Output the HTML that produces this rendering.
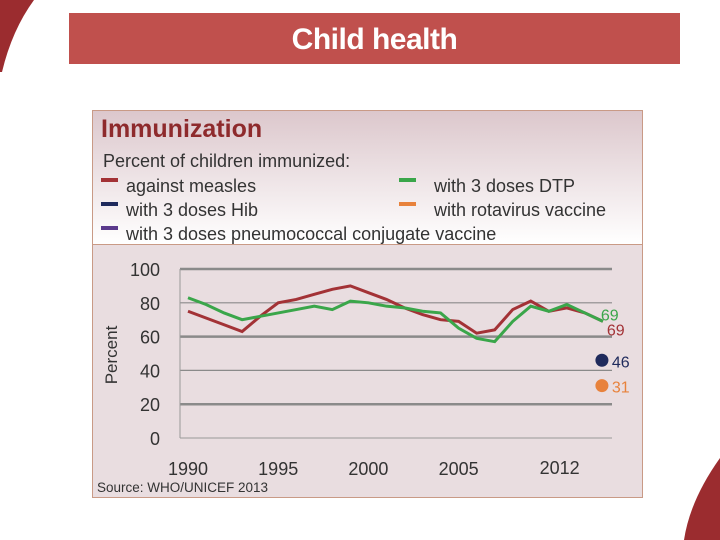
<!DOCTYPE html>
<html><head><meta charset="utf-8"><style>
body{margin:0;width:720px;height:540px;background:#fff;position:relative;overflow:hidden;font-family:"Liberation Sans",sans-serif}
.abs{position:absolute}
.lg{font-size:18px;color:#333}
</style></head><body>
<svg class="abs" style="left:0;top:0" width="720" height="540">
<path d="M0,0 L34,0 Q12,30 2,72 L0,72 Z" fill="#9b2c2f"/>
<path d="M720,458 Q690,500 684,540 L720,540 Z" fill="#9b2c2f"/>
</svg>
<div class="abs" style="left:69px;top:13px;width:611px;height:51px;background:#c0504d;color:#fff;font-size:30px;font-weight:bold;text-align:center;line-height:53px;font-family:'Liberation Sans',sans-serif;letter-spacing:-0.5px">Child health</div>
<div class="abs" style="left:92px;top:110px;width:549px;height:133px;border:1px solid #c99a86;border-bottom:none;background:linear-gradient(#dcc7cc,#ffffff)">
<div class="abs" style="left:8px;top:4px;font-size:25px;font-weight:bold;color:#8e2a2c">Immunization</div>
<div class="abs lg" style="left:10px;top:40px">Percent of children immunized:</div>
<div class="abs lg" style="left:8px;top:65px"><span style="display:inline-block;width:17px;height:4px;background:#a33236;vertical-align:top;margin-top:2px;margin-right:8px"></span>against measles</div>
<div class="abs lg" style="left:8px;top:89px"><span style="display:inline-block;width:17px;height:4px;background:#1f2a5c;vertical-align:top;margin-top:2px;margin-right:8px"></span>with 3 doses Hib</div>
<div class="abs lg" style="left:8px;top:113px"><span style="display:inline-block;width:17px;height:4px;background:#5b3a8c;vertical-align:top;margin-top:2px;margin-right:8px"></span>with 3 doses pneumococcal conjugate vaccine</div>
<div class="abs lg" style="left:306px;top:65px"><span style="display:inline-block;width:17px;height:4px;background:#3aa64a;vertical-align:top;margin-top:2px;margin-right:18px"></span>with 3 doses DTP</div>
<div class="abs lg" style="left:306px;top:89px"><span style="display:inline-block;width:17px;height:4px;background:#e8823c;vertical-align:top;margin-top:2px;margin-right:18px"></span>with rotavirus vaccine</div>
</div>
<div class="abs" style="left:92px;top:244px;width:549px;height:252px;border:1px solid #c99a86;background:#e9dde0"></div>
<svg class="abs" id="chart" style="left:0;top:0" width="720" height="540" font-family="Liberation Sans, sans-serif"></svg>
<script>
const years=[1990,1991,1992,1993,1994,1995,1996,1997,1998,1999,2000,2001,2002,2003,2004,2005,2006,2007,2008,2009,2010,2011,2012,2013];
const measles=[75,71,67,63,72,80,82,85,88,90,86,82,77,73,70,69,62,64,76,81,75,77,74,69];
const dtp=[83,79,74,70,72,74,76,78,76,81,80,78,77,75,74,65,59,57,69,78,75,79,74,69];
const yTicks=[0,20,40,60,80,100];
const xTickLabels=["1990","1995","2000","2005","2012"];
const xTickYears=[1990,1995,2000,2005,2010.6];
const dotLabels=["46","31"];
const dotValues=[46,31];
const svg=document.getElementById('chart');
const NS='http://www.w3.org/2000/svg';
const x=y=>188+(y-1990)*18.04;
const yv=v=>438-v*1.69;
function mk(t,a){const e=document.createElementNS(NS,t);for(const k in a)e.setAttribute(k,a[k]);svg.appendChild(e);return e;}
yTicks.forEach(v=>{
  if(v>0){const g=mk('line',{x1:180,x2:612,y1:yv(v),y2:yv(v),stroke:'#8a8a8a','stroke-width':v%40==0?1.2:2.5});
  }
  const t=mk('text',{x:160,y:yv(v)+7,'text-anchor':'end','font-size':18,fill:'#333'});t.textContent=v;
  
});
const ax=mk('line',{x1:180,x2:180,y1:yv(100),y2:yv(0),stroke:'#999','stroke-width':1});

const bx=mk('line',{x1:180,x2:612,y1:yv(0),y2:yv(0),stroke:'#999','stroke-width':1});

xTickLabels.forEach((l,i)=>{const t=mk('text',{x:x(xTickYears[i]),y:i==4?474:475,'text-anchor':'middle','font-size':18,fill:'#333'});t.textContent=l;
});
const yt=mk('text',{x:0,y:0,transform:'translate(117,355) rotate(-90)','text-anchor':'middle','font-size':17,fill:'#333'});yt.textContent='Percent';

const src=mk('text',{x:97,y:492,'font-size':13.5,fill:'#333'});src.textContent='Source: WHO/UNICEF 2013';

const pm=mk('polyline',{points:years.map((y,i)=>x(y)+','+yv(measles[i])).join(' '),fill:'none',stroke:'#a33236','stroke-width':3});

const pd=mk('polyline',{points:years.map((y,i)=>x(y)+','+yv(dtp[i])).join(' '),fill:'none',stroke:'#3aa64a','stroke-width':3});

const last=years[years.length-1];
const l1=mk('text',{x:x(last)-2,y:yv(dtp[dtp.length-1])-1,'font-size':16,fill:'#3aa64a'});l1.textContent=dtp[dtp.length-1];

const l2=mk('text',{x:x(last)+4,y:yv(measles[measles.length-1])+14,'font-size':16,fill:'#a33236'});l2.textContent=measles[measles.length-1];

const cols=['#1f2a5c','#e8823c'];
dotValues.forEach((v,i)=>{const c=mk('circle',{cx:x(last)-1,cy:yv(v),r:6.5,fill:cols[i]});

const t=mk('text',{x:x(last)+9,y:yv(v)+7,'font-size':16,fill:cols[i]});t.textContent=dotLabels[i];
});
</script>
</body></html>
